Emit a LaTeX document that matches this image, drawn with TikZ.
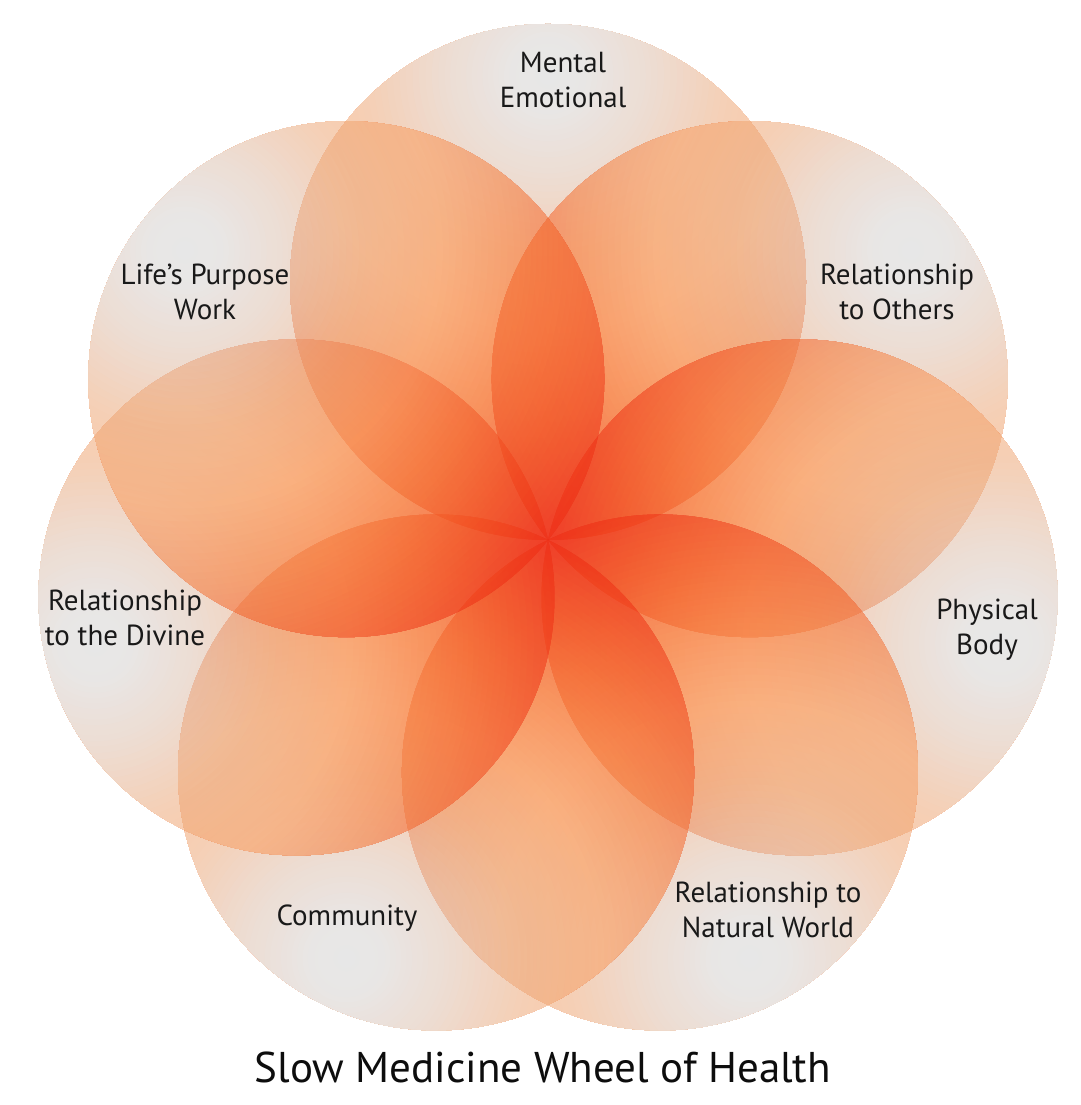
\documentclass[tikz,border=0pt]{standalone}
\usepackage{fontspec}
\setmainfont{PT Sans}
\usetikzlibrary{calc}
% colours along the distance from each circle's outer light spot
\definecolor{g0}{rgb}{0.830,0.830,0.830}
\definecolor{g1}{rgb}{0.840,0.825,0.815}
\definecolor{g2}{rgb}{0.870,0.755,0.685}
\definecolor{g3}{rgb}{0.925,0.665,0.485}
\definecolor{g4}{rgb}{0.975,0.610,0.370}
\definecolor{g5}{rgb}{0.965,0.470,0.210}
\definecolor{g6}{rgb}{0.950,0.320,0.120}
\definecolor{g7}{rgb}{0.930,0.150,0.070}
\tikzset{
  petalgroup/.style={transparency group, opacity=0.55},
  lab/.style={align=center, font=\fontsize{29}{35}\selectfont, text=black!90},
}
\begin{document}
\begin{tikzpicture}[x=1pt,y=1pt]
\useasboundingbox (0,0) rectangle (1080,1105);
\coordinate (ctr) at (548,565);
\foreach \i in {0,...,6}{
  \pgfmathsetmacro{\ang}{90-\i*360/7}
  \coordinate (c\i) at ($(ctr)+(\ang:258)$);
  \coordinate (s\i) at ($(ctr)+(\ang:464.4)$);
  \begin{scope}[petalgroup]
    \clip (c\i) circle (258);
    \foreach \da/\db/\ca/\cb in {1.85/1.55/g7/g6, 1.55/1.3/g6/g5, 1.3/1.0/g5/g4,
        1.0/0.7/g4/g3, 0.7/0.4/g3/g2, 0.4/0.15/g2/g1, 0.15/0.0/g1/g0}{
      \foreach \k in {0,...,11}{
        \pgfmathsetmacro{\dd}{(\da+(\db-\da)*\k/12)*258}
        \pgfmathtruncatemacro{\pp}{100-\k*100/12}
        \fill[fill=\ca!\pp!\cb] (s\i) circle (\dd);
      }
    }
  \end{scope}
}
\node[lab] (l0) at (563,1025) {Mental\\Emotional};
\node[lab] (l1) at (897,813) {Relationship\\to Others};
\node[lab] (l2) at (987,475) {Physical\\Body};
\node[lab] (l3) at (768,195) {Relationship to\\Natural World};
\node[lab] (l4) at (347,187) {Community};
\node[lab] (l5) at (125,487) {Relationship\\to the Divine};
\node[lab] (l6) at (205,813) {Life’s Purpose\\Work};
\node[font=\fontsize{43}{50}\selectfont, text=black!95] (title) at (543,38) {Slow Medicine Wheel of Health};
\end{tikzpicture}
\end{document}
